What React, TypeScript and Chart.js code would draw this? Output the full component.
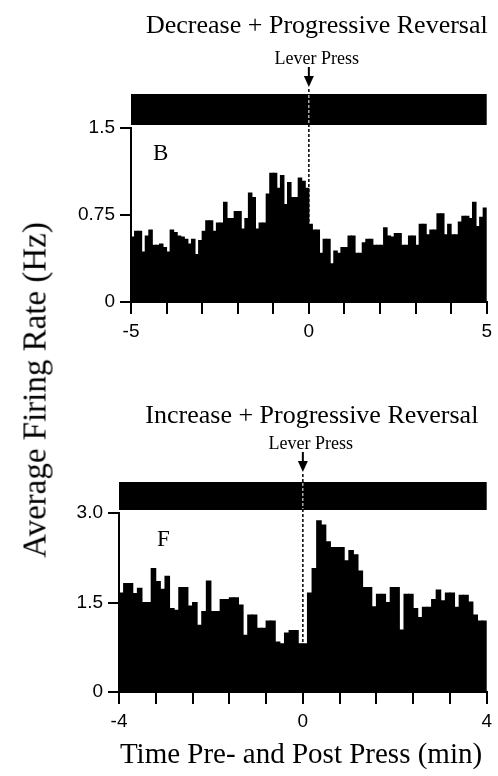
import React, { useEffect, useRef } from 'react';
import { Chart, registerables } from 'chart.js';

Chart.register(...registerables);

// ---------- text ----------
const TOP_TITLE = 'Decrease + Progressive Reversal';
const BOTTOM_TITLE = 'Increase + Progressive Reversal';
const PRESS_LABEL = 'Lever Press';
const Y_TITLE = 'Average Firing Rate (Hz)';
const X_TITLE = 'Time Pre- and Post Press (min)';
const TOP_LETTER = 'B';
const BOTTOM_LETTER = 'F';

// ---------- top panel data (0.1 min bins, -5 .. 5 min) ----------
const topBinStart = -5;
const topBinWidth = 0.1;
const topPre = [
  0.56, 0.61, 0.61, 0.43, 0.57, 0.62, 0.49, 0.49, 0.5, 0.47,
  0.43, 0.62, 0.6, 0.57, 0.56, 0.54, 0.5, 0.54, 0.41, 0.53,
  0.61, 0.7, 0.7, 0.61, 0.68, 0.68, 0.86, 0.72, 0.72, 0.78,
  0.78, 0.63, 0.72, 0.94, 0.9, 0.63, 0.68, 0.68, 0.93, 1.11,
  1.11, 0.98, 1.09, 0.84, 1.03, 0.9, 0.9, 1.07, 1.04, 0.98,
];
const topPost = [
  0.67, 0.62, 0.62, 0.42, 0.54, 0.54, 0.33, 0.44, 0.42, 0.47,
  0.47, 0.57, 0.57, 0.42, 0.42, 0.51, 0.54, 0.54, 0.49, 0.49,
  0.49, 0.64, 0.57, 0.56, 0.59, 0.59, 0.49, 0.49, 0.57, 0.57,
  0.49, 0.67, 0.67, 0.58, 0.62, 0.62, 0.76, 0.76, 0.58, 0.67,
  0.58, 0.58, 0.69, 0.74, 0.74, 0.72, 0.86, 0.65, 0.73, 0.81,
];
const topXTicks = [-5, -4, -3, -2, -1, 0, 1, 2, 3, 4, 5];
const topXLabels = ['-5', '', '', '', '', '0', '', '', '', '', '5'];
const topYTicks = [0, 0.75, 1.5];
const topYLabels = ['0', '0.75', '1.5'];

// ---------- bottom panel data (0.1 min bins, -4 .. 4 min) ----------
const botBinStart = -4;
const botBinWidth = 0.1;
const botPre = [
  1.66, 1.82, 1.82, 1.65, 1.74, 1.5, 1.5, 2.07, 1.85, 1.72,
  1.94, 1.4, 1.37, 1.75, 1.75, 1.44, 1.5, 1.12, 1.35, 1.86,
  1.35, 1.35, 1.55, 1.55, 1.58, 1.58, 1.46, 0.95, 1.29, 1.29,
  1.07, 1.07, 1.19, 1.19, 0.84, 0.81, 0.99, 1.03, 1.03, 0.81,
];
const botPost = [
  0.81, 1.66, 2.07, 2.87, 2.8, 2.52, 2.42, 2.42, 2.42, 2.2,
  2.37, 2.3, 2.03, 1.75, 1.75, 1.43, 1.64, 1.64, 1.5, 1.75,
  1.75, 1.04, 1.64, 1.64, 1.4, 1.25, 1.42, 1.42, 1.55, 1.71,
  1.53, 1.66, 1.66, 1.42, 1.62, 1.62, 1.51, 1.29, 1.19, 1.19,
];
const botXTicks = [-4, -3.2, -2.4, -1.6, -0.8, 0, 0.8, 1.6, 2.4, 3.2, 4];
const botXLabels = ['-4', '', '', '', '', '0', '', '', '', '', '4'];
const botYTicks = [0, 1.5, 3];
const botYLabels = ['0', '1.5', '3.0'];

const SERIF = '"Liberation Serif", "Times New Roman", serif';
const SANS = '"Liberation Sans", Arial, sans-serif';
const W = 498;
const H = 776;

const annotPlugin = {
  id: 'annot',
  afterDraw(chart: any, _args: any, opts: any) {
    const { ctx, chartArea, scales } = chart;
    const top = chartArea.top;
    const xp = scales.x.getPixelForValue(opts.pressAt);
    ctx.save();
    ctx.fillStyle = '#000';
    ctx.strokeStyle = '#000';
    // title
    ctx.textAlign = 'center';
    ctx.textBaseline = 'alphabetic';
    ctx.font = `26px ${SERIF}`;
    ctx.fillText(opts.title, (chartArea.left + chartArea.right) / 2 + opts.titleDx, top - opts.titleGap);
    // lever press label
    ctx.font = `18px ${SERIF}`;
    ctx.fillText(opts.pressLabel, xp + 8, top - 64);
    // arrow
    ctx.lineWidth = 2;
    ctx.beginPath();
    ctx.moveTo(xp, top - 61);
    ctx.lineTo(xp, top - 50);
    ctx.stroke();
    ctx.beginPath();
    ctx.moveTo(xp - 5, top - 52);
    ctx.lineTo(xp + 5, top - 52);
    ctx.lineTo(xp, top - 41);
    ctx.closePath();
    ctx.fill();
    // raster band
    const rTop = top - opts.rasterTop;
    const rBot = top - opts.rasterBottom;
    ctx.fillRect(chartArea.left, rTop, chartArea.right - chartArea.left, rBot - rTop);
    // dashed line at press
    const yEnd = scales.y.getPixelForValue(opts.dashTo);
    ctx.lineWidth = 1.5;
    ctx.setLineDash([3, 2]);
    ctx.beginPath();
    ctx.moveTo(xp, top - 39);
    ctx.lineTo(xp, yEnd);
    ctx.stroke();
    ctx.strokeStyle = '#fff';
    ctx.lineWidth = 1;
    ctx.beginPath();
    ctx.moveTo(xp, rTop + 1);
    ctx.lineTo(xp, rBot - 1);
    ctx.stroke();
    ctx.setLineDash([]);
    // panel letter
    ctx.textAlign = 'left';
    ctx.font = `23px ${SERIF}`;
    ctx.fillText(opts.letter, chartArea.left + opts.letterDx, top + opts.letterDy);
    ctx.restore();
  },
};

function makeConfig(p: any) {
  const pre = p.pre as number[];
  const post = p.post as number[];
  const values = pre.concat(post);
  const data = values.map((v, i) => ({ x: p.binStart + p.binWidth * (i + 0.5), y: v }));
  return {
    type: 'bar',
    data: {
      datasets: [
        {
          data,
          backgroundColor: '#000',
          borderWidth: 0,
          barPercentage: 1,
          categoryPercentage: 1,
          inflateAmount: 0.5,
        },
      ],
    },
    options: {
      responsive: false,
      animation: false,
      events: [],
      layout: {
        autoPadding: false,
        padding: { top: p.area.top, left: 0, right: W - p.area.right, bottom: H - p.area.bottom - 40 },
      },
      plugins: {
        legend: { display: false },
        tooltip: { enabled: false },
        title: { display: false },
        annot: {
          pressAt: 0,
          title: p.title,
          titleDx: p.titleDx,
          titleGap: p.titleGap,
          pressLabel: PRESS_LABEL,
          rasterTop: p.rasterTop,
          rasterBottom: p.rasterBottom,
          dashTo: Math.min(pre[pre.length - 1], post[0]),
          letter: p.letter,
          letterDx: p.letterDx,
          letterDy: p.letterDy,
        },
      },
      scales: {
        x: {
          type: 'linear',
          min: p.xTicks[0],
          max: p.xTicks[p.xTicks.length - 1],
          offset: false,
          afterBuildTicks: (s: any) => {
            s.ticks = p.xTicks.map((v: number) => ({ value: v }));
          },
          afterFit: (s: any) => {
            s.height = 40;
          },
          ticks: {
            autoSkip: false,
            maxRotation: 0,
            minRotation: 0,
            padding: 6,
            color: '#000',
            font: { family: SANS, size: 19 },
            callback: (_v: any, i: number) => p.xLabels[i],
          },
          grid: {
            offset: false,
            drawOnChartArea: false,
            drawTicks: true,
            tickLength: 12,
            color: '#000',
            lineWidth: 2,
          },
          border: { display: true, color: '#000', width: 2 },
        },
        y: {
          type: 'linear',
          min: p.yTicks[0],
          max: p.yTicks[p.yTicks.length - 1],
          afterBuildTicks: (s: any) => {
            s.ticks = p.yTicks.map((v: number) => ({ value: v }));
          },
          afterFit: (s: any) => {
            s.width = p.area.left;
          },
          ticks: {
            autoSkip: false,
            padding: 5,
            color: '#000',
            font: { family: SANS, size: 19 },
            callback: (_v: any, i: number) => p.yLabels[i],
          },
          grid: {
            drawOnChartArea: false,
            drawTicks: true,
            tickLength: 11,
            color: '#000',
            lineWidth: 2,
          },
          border: { display: true, color: '#000', width: 2 },
        },
      },
    },
    plugins: [annotPlugin],
  } as any;
}

export default function App() {
  const topRef = useRef<HTMLCanvasElement | null>(null);
  const botRef = useRef<HTMLCanvasElement | null>(null);

  useEffect(() => {
    const top = new Chart(
      topRef.current as HTMLCanvasElement,
      makeConfig({
        pre: topPre,
        post: topPost,
        binStart: topBinStart,
        binWidth: topBinWidth,
        xTicks: topXTicks,
        xLabels: topXLabels,
        yTicks: topYTicks,
        yLabels: topYLabels,
        area: { left: 131, right: 490, top: 128, bottom: 302 },
        title: TOP_TITLE,
        titleDx: 8,
        titleGap: 95,
        rasterTop: 34,
        rasterBottom: 3,
        letter: TOP_LETTER,
        letterDx: 22,
        letterDy: 32,
      })
    );
    const bot = new Chart(
      botRef.current as HTMLCanvasElement,
      makeConfig({
        pre: botPre,
        post: botPost,
        binStart: botBinStart,
        binWidth: botBinWidth,
        xTicks: botXTicks,
        xLabels: botXLabels,
        yTicks: botYTicks,
        yLabels: botYLabels,
        area: { left: 119, right: 487, top: 513, bottom: 692 },
        title: BOTTOM_TITLE,
        titleDx: 9,
        titleGap: 90,
        rasterTop: 31,
        rasterBottom: 3,
        letter: BOTTOM_LETTER,
        letterDx: 38,
        letterDy: 33,
      })
    );
    return () => {
      top.destroy();
      bot.destroy();
    };
  }, []);

  const abs: React.CSSProperties = { position: 'absolute', left: 0, top: 0 };
  return (
    <div style={{ position: 'absolute', left: 0, top: 0, width: W, height: H, background: '#fff', overflow: 'hidden' }}>
      <canvas ref={topRef} width={W} height={H} style={{ ...abs, width: W, height: H }} />
      <canvas ref={botRef} width={W} height={H} style={{ ...abs, width: W, height: H }} />
      <div
        style={{
          position: 'absolute',
          left: 35,
          top: 390,
          transform: 'translate(-50%, -50%) rotate(-90deg)',
          fontFamily: SERIF,
          fontSize: 33,
          lineHeight: 1,
          whiteSpace: 'nowrap',
          color: '#000',
        }}
      >
        {Y_TITLE}
      </div>
      <div
        style={{
          position: 'absolute',
          left: 301,
          top: 753,
          transform: 'translate(-50%, -50%)',
          fontFamily: SERIF,
          fontSize: 29,
          lineHeight: 1,
          whiteSpace: 'nowrap',
          color: '#000',
        }}
      >
        {X_TITLE}
      </div>
    </div>
  );
}
